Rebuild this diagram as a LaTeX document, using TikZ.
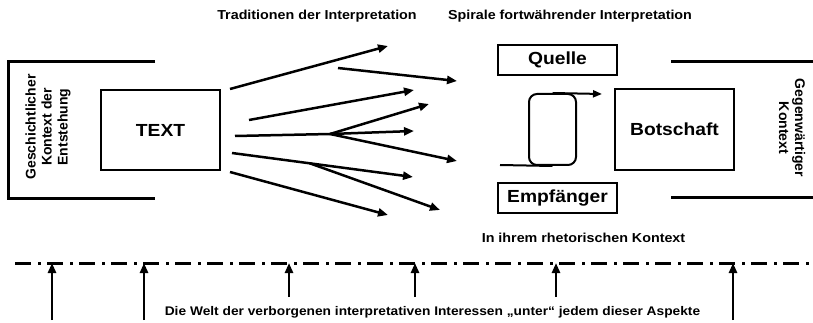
\documentclass[tikz,border=0pt]{standalone}
\usepackage{fontspec}
\usetikzlibrary{arrows.meta,calc}
\newfontfamily\wide[FakeStretch=1.1]{Liberation Sans}
\newfontfamily\plain{Liberation Sans}
\begin{document}
\begin{tikzpicture}[x=1pt,y=-1pt,
  bracket/.style={line width=3pt},
  bigbox/.style={draw,line width=2pt,minimum width=119pt,minimum height=80pt,inner sep=0pt,font=\wide\bfseries\fontsize{17.5}{20}\selectfont},
  smallbox/.style={draw,line width=2pt,minimum width=119pt,minimum height=30pt,inner sep=0pt,font=\wide\bfseries\fontsize{17.5}{20}\selectfont},
  arr/.style={line width=2.5pt,-{Triangle[length=10pt,width=8pt]}},
  fanline/.style={line width=2.5pt},
  smallarr/.style={line width=2pt,-{Triangle[length=9pt,width=7pt]}},
  lbl/.style={font=\wide\bfseries\fontsize{13}{15}\selectfont,anchor=base,inner sep=0pt},
  sidelbl/.style={font=\plain\bfseries\fontsize{14}{16}\selectfont,align=center,inner sep=0pt},
  dashdot/.style={line width=3pt,dash pattern=on 16pt off 7pt on 3pt off 6pt}
]
\useasboundingbox (0,0) rectangle (813,323);

% left bracket
\coordinate (lt1) at (155,62); \coordinate (lt0) at (8,62);
\coordinate (lb0) at (8,198); \coordinate (lb1) at (155,198);
\draw[bracket] (lt1) -- (lt0) -- (lb0) -- (lb1);
% right bracket
\coordinate (rt0) at (671,62); \coordinate (rt1) at (813,62);
\coordinate (rb0) at (671,197); \coordinate (rb1) at (813,197);
\draw[bracket] (rt0) -- (rt1);
\draw[bracket] (rb0) -- (rb1);

\node[sidelbl,rotate=90] (gesch) at (48,127) {Geschichtlicher\\Kontext der\\Entstehung};
\node[sidelbl,rotate=-90] (gegen) at (792,128) {Gegenwärtiger\\Kontext};

\node[bigbox] (text) at (160.5,130) {TEXT};
\node[bigbox,minimum height=81pt] (bot) at (674.5,129.5) {Botschaft};
\node[smallbox] (quelle) at (557.5,60) {Quelle};
\node[smallbox] (empf) at (557.5,198) {Empfänger};

% fan of arrows
\coordinate (s1) at (230,89);  \coordinate (e1) at (388,46);
\coordinate (s2) at (338,68);  \coordinate (e2) at (457,81);
\coordinate (s3) at (249,120); \coordinate (e3) at (414,90);
\coordinate (s4) at (235,136); \coordinate (b4) at (330,134);
\coordinate (e4a) at (429,104); \coordinate (e4b) at (414,131); \coordinate (e4c) at (457,161);
\coordinate (s5) at (232,153); \coordinate (e5) at (413,177);
\coordinate (b5) at ($(s5)!0.43!(e5)$);
\coordinate (e5b) at (440,210);
\coordinate (s6) at (230,172); \coordinate (e6) at (388,215);
\draw[arr] (s1) -- (e1);
\draw[arr] (s2) -- (e2);
\draw[arr] (s3) -- (e3);
\draw[fanline] (s4) -- (b4);
\draw[arr] (b4) -- (e4a);
\draw[arr] (b4) -- (e4b);
\draw[arr] (b4) -- (e4c);
\draw[arr] (s5) -- (e5);
\draw[arr] (b5) -- (e5b);
\draw[arr] (s6) -- (e6);

% spiral
\node[draw,line width=2pt,rounded corners=8pt,minimum width=47pt,minimum height=71pt,inner sep=0pt] (loop) at (552.5,129.5) {};
\coordinate (sp0) at (500,165);
\coordinate (sp1) at (602,94);
\draw[line width=2pt] (sp0) -- (loop.south);
\draw[smallarr] (loop.north) -- (sp1);

% labels
\node[lbl] (t1) at (317,20) {Traditionen der Interpretation};
\node[lbl] (t2) at (570,20) {Spirale fortwährender Interpretation};
\node[lbl] (rhet) at (583.5,242.5) {In ihrem rhetorischen Kontext};
\node[lbl,font=\wide\bfseries\fontsize{12.5}{15}\selectfont] (welt) at (432.5,315.5) {Die Welt der verborgenen interpretativen Interessen „unter“ jedem dieser Aspekte};

% dash-dot line and up arrows
\coordinate (d0) at (15,263); \coordinate (d1) at (813,263);
\draw[dashdot] (d0) -- (d1);
\foreach \x/\y [count=\i] in {52/320,144/320,289/297,415/297,556/297,733/320}{
  \coordinate (u\i) at (\x,\y);
  \coordinate (v\i) at (\x,263);
  \draw[arr] (u\i) -- (v\i);
}
\end{tikzpicture}
\end{document}
